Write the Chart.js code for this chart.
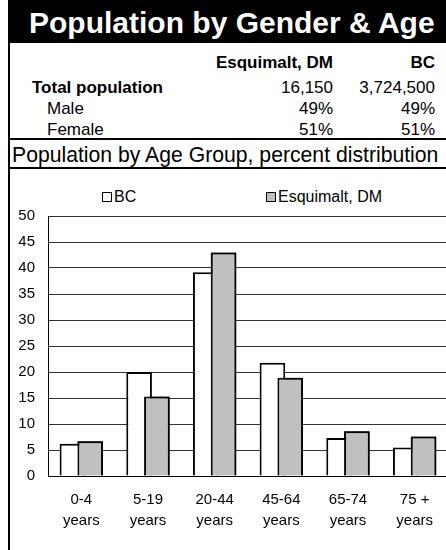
<!DOCTYPE html>
<html>
<head>
<meta charset="utf-8">
<script src="https://cdn.jsdelivr.net/npm/chart.js@4.4.1/dist/chart.umd.min.js"></script>
<style>
html, body { margin: 0; padding: 0; width: 446px; height: 550px; overflow: hidden; background: #fff; }
body { position: relative; font-family: "Liberation Sans", Arial, sans-serif; color: #000; }
.abs { position: absolute; white-space: nowrap; }
#banner { left: 8px; top: 0; width: 438px; height: 43px; background: #000; }
#title { left: 29px; top: 8px; font-size: 30px; line-height: 30px; font-weight: bold; color: #fff; }
#leftline { left: 8px; top: 43px; width: 2px; height: 507px; background: #000; }
.hline { left: 8px; width: 438px; height: 2px; background: #000; }
.t { font-size: 17px; line-height: 17px; }
.b { font-weight: bold; }
#subtitle { left: 12px; font-size: 21px; line-height: 21px; }
#chartbox { position: absolute; left: 0; top: 170px; }
.lgbox { position: absolute; width: 10px; height: 10px; box-sizing: border-box; border: 1px solid #000; }
.lgtxt { position: absolute; font-size: 16px; line-height: 16px; white-space: nowrap; }
</style>
</head>
<body>
<div class="abs" id="banner"></div>
<div class="abs" id="title">Population by Gender &amp; Age</div>
<div class="abs" id="leftline"></div>
<div id="table"></div>
<div class="abs hline" style="top:138px"></div>
<div class="abs" id="subtitle">Population by Age Group, percent distribution</div>
<div class="abs hline" style="top:167px"></div>
<div id="legend"></div>
<div id="chartbox"><canvas id="myChart" width="448" height="380"></canvas></div>
<script>
// summary table
var tableCols = ['Esquimalt, DM', 'BC'];
var rowNames = ['Total population', 'Male', 'Female'];
var totalPop = ['16,150', '3,724,500'];
var malePct = ['49%', '49%'];
var femalePct = ['51%', '51%'];

// age chart
var categories = [['0-4', 'years'], ['5-19', 'years'], ['20-44', 'years'], ['45-64', 'years'], ['65-74', 'years'], ['75 +', 'years']];
var seriesNames = ['BC', 'Esquimalt, DM'];
var bcValues = [6.2, 20.0, 39.2, 21.8, 7.3, 5.5];
var esqValues = [6.7, 15.3, 43.0, 18.9, 8.6, 7.6];
var yMin = 0, yMax = 50, yStep = 5;

var seriesColors = ['#ffffff', '#c0c0c0'];

// subtitle must fit between the left rule and the page edge
var sub = document.getElementById('subtitle');
var mctx = document.createElement('canvas').getContext('2d');
mctx.font = '22px "Liberation Sans", Arial, sans-serif';
var subSize = Math.min(22, 22 * 428 / mctx.measureText(sub.textContent).width);
sub.style.fontSize = subSize + 'px';
sub.style.lineHeight = subSize + 'px';
sub.style.top = (161.5 - 0.8465 * subSize) + 'px';

// build the table
var tbl = document.getElementById('table');
function addText(txt, cls, left, right, base) {
    var d = document.createElement('div');
    d.className = 'abs t ' + cls;
    d.textContent = txt;
    d.style.top = (base - 14.4) + 'px';
    if (right != null) { d.style.right = (446 - right) + 'px'; } else { d.style.left = left + 'px'; }
    tbl.appendChild(d);
}
var colRight = [333, 435];
var rowBase = [93, 114, 135];
var rowVals = [totalPop, malePct, femalePct];
tableCols.forEach(function (c, i) { addText(c, 'b', null, colRight[i], 68); });
rowNames.forEach(function (n, i) {
    addText(n, i === 0 ? 'b' : '', i === 0 ? 32 : 47, null, rowBase[i]);
    rowVals[i].forEach(function (v, j) { addText(v, '', null, colRight[j], rowBase[i]); });
});

// legend
var lg = document.getElementById('legend');
var lgLeft = [102, 266];
seriesNames.forEach(function (n, i) {
    var b = document.createElement('div');
    b.className = 'lgbox';
    b.style.left = lgLeft[i] + 'px';
    b.style.top = '192px';
    b.style.background = seriesColors[i];
    lg.appendChild(b);
    var t = document.createElement('div');
    t.className = 'lgtxt';
    t.textContent = n;
    t.style.left = (lgLeft[i] + 12) + 'px';
    t.style.top = '189px';
    lg.appendChild(t);
});

// Esquimalt bars overlap the BC bars, so paint them again on top
var esqOnTop = {
    id: 'esqOnTop',
    afterDatasetsDraw: function (chart) {
        var meta = chart.getDatasetMeta(1);
        meta.controller.draw();
    }
};

var ctx = document.getElementById('myChart').getContext('2d');
var chart = new Chart(ctx, {
    type: 'bar',
    data: {
        labels: categories,
        datasets: [{
            label: seriesNames[0],
            data: bcValues,
            backgroundColor: seriesColors[0],
            borderColor: '#000',
            borderWidth: 2
        }, {
            label: seriesNames[1],
            data: esqValues,
            backgroundColor: seriesColors[1],
            borderColor: '#000',
            borderWidth: 2
        }]
    },
    options: {
        responsive: false,
        animation: false,
        categoryPercentage: 0.534,
        barPercentage: 1.44,
        layout: { padding: { top: 46, bottom: 6, left: 0, right: 0 } },
        plugins: {
            legend: { display: false },
            tooltip: { enabled: false }
        },
        scales: {
            x: {
                grid: { display: false, drawTicks: false },
                border: { display: true, color: '#000', width: 1 },
                ticks: {
                    color: '#000',
                    padding: 13,
                    autoSkip: false,
                    maxRotation: 0,
                    font: { family: '"Liberation Sans", Arial, sans-serif', size: 15, lineHeight: 1.4 }
                }
            },
            y: {
                min: yMin,
                max: yMax,
                grid: { color: '#333', drawTicks: false },
                border: { display: true, color: '#000', width: 1 },
                ticks: {
                    stepSize: yStep,
                    color: '#000',
                    padding: 13,
                    font: { family: '"Liberation Sans", Arial, sans-serif', size: 15 }
                },
                afterFit: function (s) { s.width = 48; }
            }
        }
    },
    plugins: [esqOnTop]
});
</script>
</body>
</html>
